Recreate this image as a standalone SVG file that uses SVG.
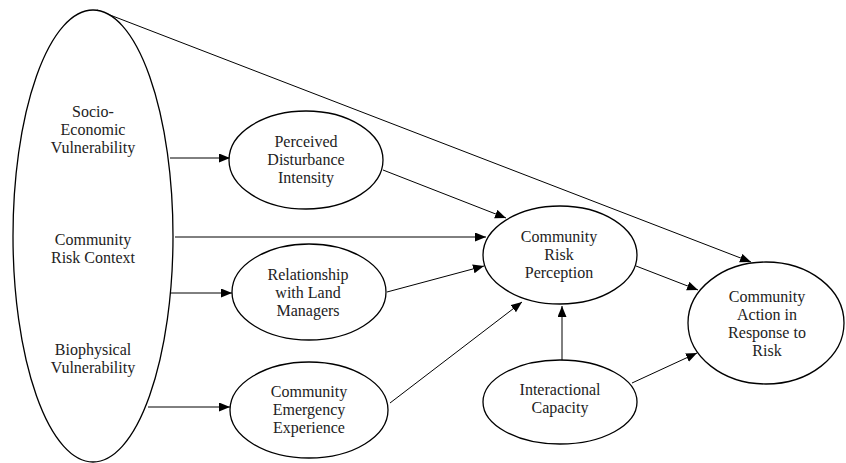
<svg xmlns="http://www.w3.org/2000/svg" width="846" height="463" viewBox="0 0 846 463">
<style>
.node ellipse{fill:#fff;stroke:#000;stroke-width:1.3}
.node text{font-family:'Liberation Serif','Times New Roman','DejaVu Serif',serif;font-size:16px;fill:#222;text-anchor:middle}
.edges line{stroke:#000;stroke-width:1;marker-end:url(#arr)}
</style>
<defs>
<marker id="arr" markerUnits="userSpaceOnUse" markerWidth="12" markerHeight="10" refX="11" refY="4.5" orient="auto">
<path d="M0,0 L11,4.5 L0,9 Z" fill="#000"/>
</marker>
</defs>
<rect width="846" height="463" fill="#fff"/>
<g class="edges">
<line x1="97" y1="10" x2="751" y2="262"/>
<line x1="170" y1="158" x2="230" y2="158"/>
<line x1="175" y1="237" x2="486" y2="237"/>
<line x1="171" y1="293" x2="232" y2="293"/>
<line x1="148" y1="407" x2="230" y2="407"/>
<line x1="383" y1="170" x2="506" y2="218"/>
<line x1="387" y1="292" x2="484" y2="266"/>
<line x1="390" y1="403" x2="522" y2="302"/>
<line x1="636" y1="266" x2="698" y2="290"/>
<line x1="562" y1="360" x2="562" y2="306"/>
<line x1="632" y1="383" x2="697" y2="353"/>
</g>
<g id="context" class="node">
<ellipse cx="93" cy="236" rx="80" ry="226"/>
<text x="93" y="117">Socio-</text>
<text x="93" y="135">Economic</text>
<text x="93" y="153">Vulnerability</text>
<text x="93" y="245">Community</text>
<text x="93" y="263">Risk Context</text>
<text x="93" y="355">Biophysical</text>
<text x="93" y="373">Vulnerability</text>
</g>
<g id="perceived" class="node">
<ellipse cx="306" cy="160" rx="77" ry="49"/>
<text x="306" y="147">Perceived</text>
<text x="306" y="165">Disturbance</text>
<text x="306" y="183">Intensity</text>
</g>
<g id="relationship" class="node">
<ellipse cx="309" cy="292" rx="77" ry="48"/>
<text x="308" y="280">Relationship</text>
<text x="308" y="298">with Land</text>
<text x="308" y="316">Managers</text>
</g>
<g id="emergency" class="node">
<ellipse cx="309" cy="410" rx="79" ry="48"/>
<text x="309" y="397">Community</text>
<text x="309" y="415">Emergency</text>
<text x="309" y="433">Experience</text>
</g>
<g id="perception" class="node">
<ellipse cx="560" cy="255" rx="77" ry="49"/>
<text x="559" y="242">Community</text>
<text x="559" y="260">Risk</text>
<text x="559" y="278">Perception</text>
</g>
<g id="interactional" class="node">
<ellipse cx="560" cy="402" rx="77" ry="42"/>
<text x="560" y="395">Interactional</text>
<text x="560" y="413">Capacity</text>
</g>
<g id="action" class="node">
<ellipse cx="766" cy="323" rx="78" ry="61"/>
<text x="767" y="302">Community</text>
<text x="767" y="320">Action in</text>
<text x="767" y="338">Response to</text>
<text x="767" y="356">Risk</text>
</g>
</svg>
